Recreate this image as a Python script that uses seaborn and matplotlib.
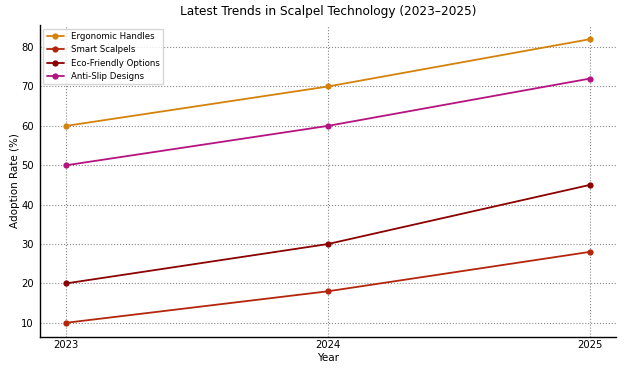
import matplotlib
matplotlib.use("Agg")
import matplotlib.pyplot as plt
import seaborn as sns
import pandas as pd

years = [2023, 2024, 2025]
ergonomic = [60, 70, 82]
smart = [10, 18, 28]
eco = [20, 30, 45]
anti_slip = [50, 60, 72]

series_names = ["Ergonomic Handles", "Smart Scalpels", "Eco-Friendly Options", "Anti-Slip Designs"]
colors = ["#d4820a", "#b3260b", "#8b0000", "#b5137f"]

df = pd.DataFrame({
    "Year": years * 4,
    "Rate": ergonomic + smart + eco + anti_slip,
    "Trend": [n for n in series_names for _ in years],
})

sns.set_style("white", {"text.color": "black", "axes.labelcolor": "black",
                        "xtick.color": "black", "ytick.color": "black"})
plt.rcParams["font.family"] = ["DejaVu Sans"]

fig, ax = plt.subplots(figsize=(6.24, 3.74), dpi=100)
sns.lineplot(
    data=df, x="Year", y="Rate", hue="Trend", hue_order=series_names,
    palette=colors, marker="o", markersize=4.5, markeredgewidth=0,
    linewidth=1.3, ax=ax,
)

ax.set_xticks(years)
ax.set_title("Latest Trends in Scalpel Technology (2023\u20132025)", fontsize=8.7, pad=7)
ax.set_xlabel("Year", fontsize=7.5, labelpad=2)
ax.set_ylabel("Adoption Rate (%)", fontsize=7.5, labelpad=1)
ax.tick_params(labelsize=7.2, color="black", direction="out")
ax.tick_params(axis="y", length=2.5, width=0.6, pad=2)
ax.tick_params(axis="x", length=0, pad=2)
ax.grid(True, linestyle=":", color="#888888", linewidth=0.8)
sns.despine(ax=ax)
for s in ["left", "bottom"]:
    ax.spines[s].set_color("black")
    ax.spines[s].set_linewidth(1.0)

ax.legend(loc="upper left", fontsize=6.2, frameon=True, fancybox=False, edgecolor="#cccccc",
          handlelength=2, borderaxespad=0.4)

fig.subplots_adjust(left=0.064, right=0.987, top=0.933, bottom=0.099)
fig.savefig("out.png", dpi=100)
